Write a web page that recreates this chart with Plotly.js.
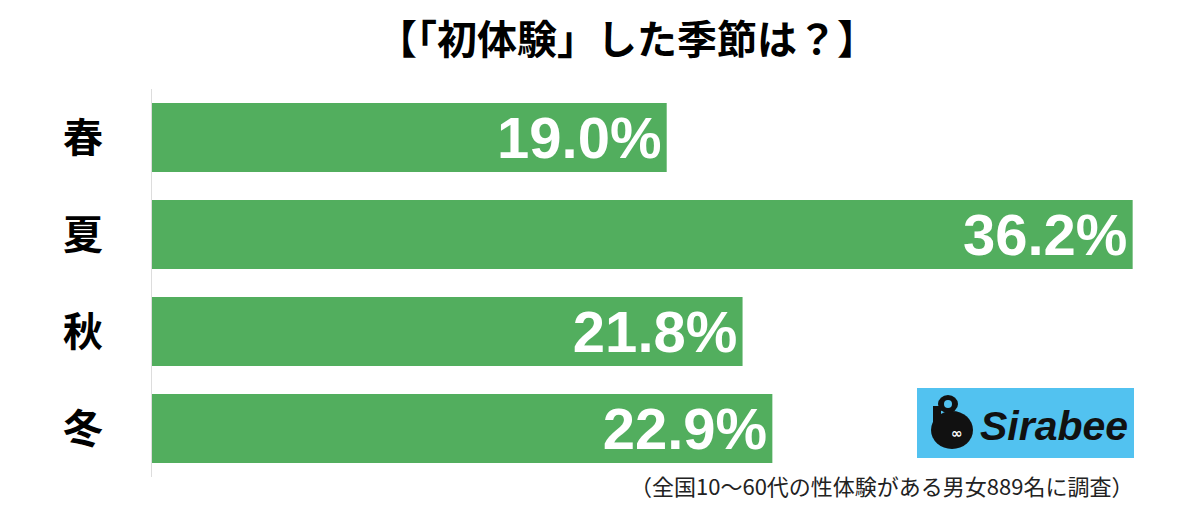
<!DOCTYPE html>
<html>
<head>
<meta charset="utf-8">
<script src="https://cdn.plot.ly/plotly-3.0.1.min.js"></script>
<style>html,body{margin:0;padding:0;background:#fff;}#chart{width:1200px;height:506px;}</style>
</head>
<body>
<div id="chart"></div>
<script>
const categories = ["春", "夏", "秋", "冬"];
const values = [19.0, 36.2, 21.8, 22.9];
const titleText = "【「初体験」した季節は？】";
const noteText = "（全国10〜60代の性体験がある男女889名に調査）";
const logoText = "Sirabee";

const W = 1200, H = 506;
const M = {l: 152, r: 0, t: 89, b: 29};
const PW = W - M.l - M.r, PH = H - M.t - M.b;
const px = x => (x - M.l) / PW;
const py = y => (H - M.b - y) / PH;
const JP = '"Noto Sans CJK JP", "Noto Sans", sans-serif';

const trace = {
  type: 'bar',
  orientation: 'h',
  y: categories,
  x: values,
  marker: {color: '#52ae5e'},
  texttemplate: '%{x:.1f}%<span style="font-size:8px"> </span>',
  textposition: 'inside',
  insidetextanchor: 'end',
  textfont: {family: '"Liberation Sans", Arial, sans-serif', size: 58, color: '#ffffff', weight: 'bold'},
  constraintext: 'none',
  hoverinfo: 'skip',
  cliponaxis: false
};

const layout = {
  width: W, height: H,
  margin: M,
  paper_bgcolor: '#ffffff',
  plot_bgcolor: '#ffffff',
  showlegend: false,
  bargap: 0.289,
  title: {
    text: titleText,
    font: {family: JP, size: 40, color: '#000000', weight: 'bold'},
    xref: 'container', x: 0.5225, xanchor: 'center',
    yref: 'container', y: 1 - 40 / H, yanchor: 'middle'
  },
  xaxis: {
    range: [0, PW / 27.09],
    showgrid: false, zeroline: false, showticklabels: false, showline: false, ticks: '',
    fixedrange: true
  },
  yaxis: {
    autorange: 'reversed',
    showgrid: false, zeroline: false,
    showline: true, linecolor: '#dddddd', linewidth: 1,
    ticks: '',
    ticklabelstandoff: 40,
    tickfont: {family: JP, size: 40, color: '#000000', weight: 'bold'},
    fixedrange: true
  },
  shapes: [
    {type: 'rect', xref: 'paper', yref: 'paper', x0: px(917), x1: px(1134), y0: py(458), y1: py(388),
     fillcolor: '#52c2f0', line: {width: 0}, layer: 'above'},
    {type: 'circle', xref: 'paper', yref: 'paper', x0: px(931), x1: px(973), y0: py(449), y1: py(411),
     fillcolor: '#111111', line: {width: 0}, layer: 'above'},
    {type: 'circle', xref: 'paper', yref: 'paper', x0: px(938), x1: px(958), y0: py(413), y1: py(395),
     fillcolor: '#111111', line: {width: 0}, layer: 'above'},
    {type: 'circle', xref: 'paper', yref: 'paper', x0: px(944), x1: px(952), y0: py(408), y1: py(400),
     fillcolor: '#52c2f0', line: {width: 0}, layer: 'above'},
    {type: 'rect', xref: 'paper', yref: 'paper', x0: px(933), x1: px(941), y0: py(428), y1: py(406),
     fillcolor: '#111111', line: {width: 0}, layer: 'above'}
  ],
  annotations: [
    {text: '∞', xref: 'paper', yref: 'paper', x: px(957), y: py(433), xanchor: 'center', yanchor: 'middle',
     showarrow: false, font: {family: '"DejaVu Sans", sans-serif', size: 14, color: '#ffffff', weight: 'bold'}},
    {text: logoText, xref: 'paper', yref: 'paper', x: px(1054), y: py(426), xanchor: 'center', yanchor: 'middle',
     showarrow: false, font: {family: '"Liberation Sans", Arial, sans-serif', size: 41, color: '#111111', weight: 'bold', style: 'italic'}},
    {text: noteText, xref: 'paper', yref: 'paper', x: px(1135), y: py(485), xanchor: 'right', yanchor: 'middle',
     showarrow: false, font: {family: JP, size: 22, color: '#222222'}}
  ]
};

Plotly.newPlot('chart', [trace], layout, {displayModeBar: false, staticPlot: true});
</script>
</body>
</html>
